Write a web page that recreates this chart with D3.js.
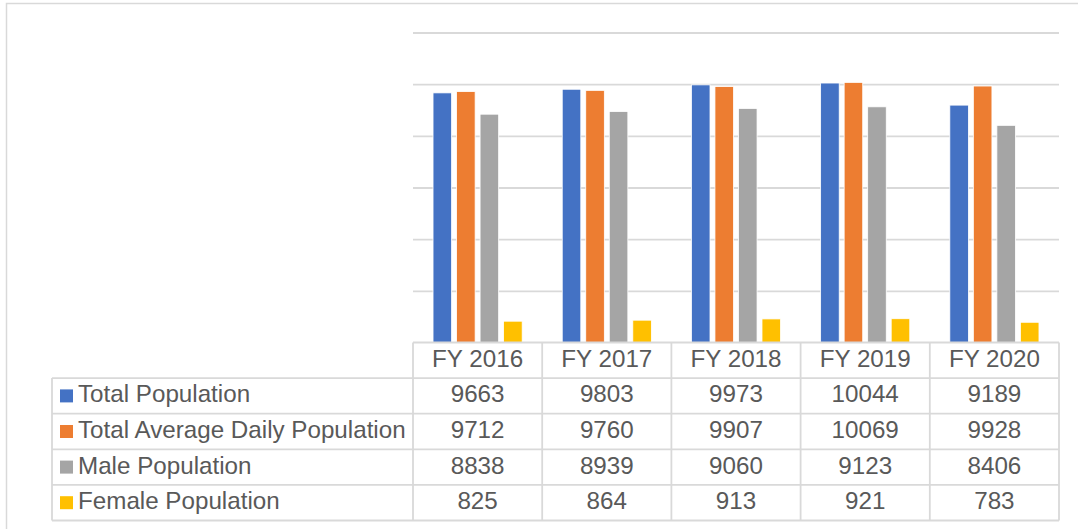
<!DOCTYPE html>
<html>
<head>
<meta charset="utf-8">
<script src="https://cdn.jsdelivr.net/npm/d3@7"></script>
<style>
  body { margin: 0; background: #fff; }
  svg text { font-family: "Liberation Sans", Arial, sans-serif; fill: #595959; }
</style>
</head>
<body>
<div id="chartContainer"></div>
<script>
// data
var years = ["FY 2016", "FY 2017", "FY 2018", "FY 2019", "FY 2020"];
var seriesNames = ["Total Population", "Total Average Daily Population", "Male Population", "Female Population"];
var seriesColors = ["#4472C4", "#ED7D31", "#A5A5A5", "#FFC000"];
var totalPop = [9663, 9803, 9973, 10044, 9189];
var avgDailyPop = [9712, 9760, 9907, 10069, 9928];
var malePop = [8838, 8939, 9060, 9123, 8406];
var femalePop = [825, 864, 913, 921, 783];
var yTicks = [0, 2000, 4000, 6000, 8000, 10000, 12000];

var seriesValues = [totalPop, avgDailyPop, malePop, femalePop];

const width = 1078;
const height = 529;

// plot / table geometry
var plotLeft = 413, plotRight = 1059;
var plotTop = 32.5, plotBottom = 342.5;
var tableLeft = 52;
var rowH = 35.6;
var gridColor = "#d9d9d9";

const svg = d3.select("#chartContainer").append("svg")
    .attr("width", width)
    .attr("height", height);

// outer chart frame (runs off right/bottom edge)
svg.append("rect")
    .attr("x", 6.5)
    .attr("y", 3.5)
    .attr("width", width + 10)
    .attr("height", height + 10)
    .style("fill", "#fff")
    .style("stroke", gridColor)
    .style("stroke-width", 1.5);

// scales
const x0 = d3.scaleBand()
    .domain(years)
    .range([plotLeft, plotRight]);

const x1 = d3.scaleBand()
    .domain(seriesNames)
    .range([x0.bandwidth() * 0.155, x0.bandwidth() * 0.845])
    .paddingInner(0.21);

const y = d3.scaleLinear()
    .domain([0, 12000])
    .range([plotBottom, plotTop]);

// gridlines
var grid = svg.append("g")
    .attr("transform", `translate(${plotLeft},0)`)
    .call(d3.axisLeft(y).tickValues(yTicks.slice(1)).tickSize(-(plotRight - plotLeft)).tickFormat(""));
grid.select(".domain").remove();
grid.selectAll("line").style("stroke", gridColor).style("stroke-width", 1.8);

// bars
var groups = svg.selectAll("g.year")
    .data(years)
    .enter()
    .append("g")
    .attr("class", "year")
    .attr("transform", function(d) { return `translate(${x0(d)},0)`; });

groups.selectAll("rect")
    .data(function(d, i) {
        return seriesNames.map(function(s, j) { return { name: s, value: seriesValues[j][i], color: seriesColors[j] }; });
    })
    .enter()
    .append("rect")
    .attr("x", function(d) { return x1(d.name); })
    .attr("y", function(d) { return y(d.value); })
    .attr("width", x1.bandwidth())
    .attr("height", function(d) { return y(0) - y(d.value); })
    .style("fill", function(d) { return d.color; })
    .style("stroke", "#fff")
    .style("stroke-width", 0.8);

// data table
var table = svg.append("g");
var fontSize = "24.2px";
var textDy = "0.27em";
var nRows = seriesNames.length;
var tableBottom = plotBottom + rowH * (nRows + 1);

// horizontal lines
table.append("line")
    .attr("x1", plotLeft).attr("x2", plotRight)
    .attr("y1", plotBottom).attr("y2", plotBottom);
for (let r = 1; r <= nRows + 1; r++) {
    table.append("line")
        .attr("x1", tableLeft).attr("x2", plotRight)
        .attr("y1", plotBottom + rowH * r).attr("y2", plotBottom + rowH * r);
}
// vertical lines
table.append("line")
    .attr("x1", tableLeft).attr("x2", tableLeft)
    .attr("y1", plotBottom + rowH).attr("y2", tableBottom);
years.forEach(function(yr) {
    table.append("line")
        .attr("x1", x0(yr)).attr("x2", x0(yr))
        .attr("y1", plotBottom).attr("y2", tableBottom);
});
table.append("line")
    .attr("x1", plotRight).attr("x2", plotRight)
    .attr("y1", plotBottom).attr("y2", tableBottom);
table.selectAll("line").style("stroke", gridColor).style("stroke-width", 1.8);

// header labels
table.selectAll("text.head")
    .data(years)
    .enter()
    .append("text")
    .attr("class", "head")
    .attr("x", function(d) { return x0(d) + x0.bandwidth() / 2; })
    .attr("y", plotBottom + rowH / 2)
    .attr("dy", textDy)
    .attr("text-anchor", "middle")
    .style("font-size", fontSize)
    .text(function(d) { return d; });

// series rows
seriesNames.forEach(function(name, j) {
    var rowMid = plotBottom + rowH * (j + 1) + rowH / 2;
    table.append("rect")
        .attr("x", 60)
        .attr("y", rowMid - 6.5)
        .attr("width", 13)
        .attr("height", 13)
        .style("fill", seriesColors[j]);
    table.append("text")
        .attr("x", 78)
        .attr("y", rowMid)
        .attr("dy", textDy)
        .style("font-size", fontSize)
        .text(name);
    table.selectAll("text.v" + j)
        .data(seriesValues[j])
        .enter()
        .append("text")
        .attr("class", "v" + j)
        .attr("x", function(d, i) { return x0(years[i]) + x0.bandwidth() / 2; })
        .attr("y", rowMid)
        .attr("dy", textDy)
        .attr("text-anchor", "middle")
        .style("font-size", fontSize)
        .text(function(d) { return d; });
});
</script>
</body>
</html>
